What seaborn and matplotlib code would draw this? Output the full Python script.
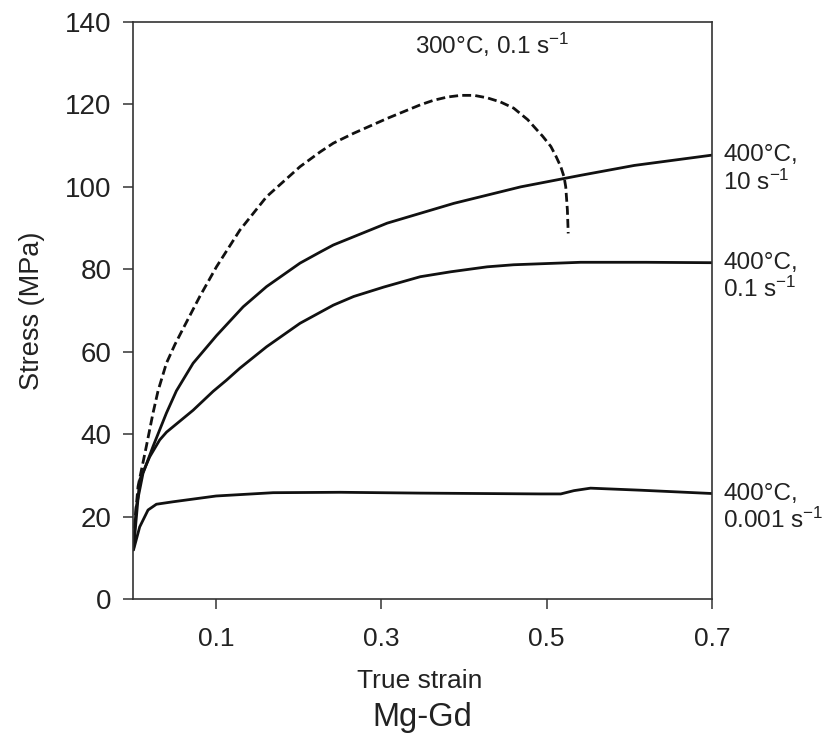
import numpy as np
import pandas as pd
import matplotlib
matplotlib.use("Agg")
import matplotlib.pyplot as plt
import seaborn as sns

# ---- flow curves of Mg-Gd (true strain vs. stress, MPa) ----
strain_300_01 = [0.0, 0.0015, 0.0055, 0.0155, 0.0236, 0.0297, 0.0398, 0.050, 0.060,
                 0.0802, 0.1004, 0.1287, 0.161, 0.2015, 0.226, 0.2418, 0.2664, 0.3069,
                 0.347, 0.363, 0.380, 0.396, 0.412, 0.428, 0.444, 0.460, 0.477,
                 0.4846, 0.495, 0.505, 0.511, 0.517, 0.521, 0.523, 0.525, 0.526]
stress_300_01 = [14.0, 18.4, 27.3, 37.0, 45.1, 50.5, 57.2, 61.7, 65.6,
                 73.4, 80.6, 89.5, 97.6, 104.9, 108.5, 110.6, 113.0, 116.6,
                 119.9, 121.0, 121.8, 122.2, 122.2, 121.6, 120.6, 119.1, 116.3,
                 114.6, 112.3, 109.8, 107.5, 104.9, 102.4, 100.0, 94.4, 88.7]

strain_400_10 = [0.0, 0.0034, 0.0115, 0.0236, 0.0398, 0.0519, 0.0721, 0.1004, 0.1327,
                 0.161, 0.2015, 0.226, 0.2418, 0.307, 0.3876, 0.4685, 0.541, 0.606, 0.700]
stress_400_10 = [13.0, 22.4, 30.5, 37.0, 45.1, 50.5, 57.2, 63.9, 70.9,
                 75.8, 81.5, 84.2, 85.9, 91.2, 96.0, 100.0, 102.8, 105.2, 107.7]

strain_400_01 = [0.0, 0.0075, 0.0196, 0.0317, 0.040, 0.0721, 0.0964, 0.1125, 0.1287,
                 0.161, 0.2015, 0.2418, 0.2664, 0.303, 0.347, 0.384, 0.428, 0.460,
                 0.541, 0.620, 0.700]
stress_400_01 = [12.0, 28.9, 34.5, 38.6, 40.5, 45.8, 50.4, 53.1, 56.0,
                 61.2, 66.9, 71.3, 73.4, 75.7, 78.2, 79.4, 80.6, 81.1,
                 81.7, 81.7, 81.6]

strain_400_0001 = [0.0, 0.0075, 0.0176, 0.0277, 0.048, 0.100, 0.169, 0.250, 0.347,
                   0.4927, 0.517, 0.533, 0.553, 0.614, 0.700]
stress_400_0001 = [11.9, 17.5, 21.6, 23.0, 23.6, 25.0, 25.8, 25.9, 25.7,
                   25.5, 25.5, 26.3, 26.9, 26.4, 25.6]

x_ticks = [0.1, 0.3, 0.5, 0.7]
x_tick_labels = ["0.1", "0.3", "0.5", "0.7"]
y_ticks = [0, 20, 40, 60, 80, 100, 120, 140]

label_300 = "300°C, 0.1 s$^{-1}$"
right_labels = [("400°C,", "10 s$^{-1}$"),
                ("400°C,", "0.1 s$^{-1}$"),
                ("400°C,", "0.001 s$^{-1}$")]

sns.set_theme(style="white")
plt.rcParams["font.family"] = ["Liberation Sans", "DejaVu Sans"]
plt.rcParams["mathtext.fontset"] = "custom"
plt.rcParams["mathtext.rm"] = "Liberation Sans"
plt.rcParams["mathtext.default"] = "regular"

TXT = "#222222"
LINE = "#111111"

fig = plt.figure(figsize=(8.22, 7.38), dpi=100)
fig.patch.set_facecolor("white")
ax = fig.add_axes([0.1624, 0.1883, 0.7038, 0.7819])

curves = [
    (strain_300_01, stress_300_01, (0, (3.2, 1.5))),
    (strain_400_10, stress_400_10, "-"),
    (strain_400_01, stress_400_01, "-"),
    (strain_400_0001, stress_400_0001, "-"),
]
for xs, ys, ls in curves:
    df = pd.DataFrame({"strain": xs, "stress": ys})
    sns.lineplot(data=df, x="strain", y="stress", ax=ax, sort=False,
                 estimator=None, color=LINE, linewidth=2.0, linestyle=ls)

ax.set_xlim(0, 0.7)
ax.set_ylim(0, 140)
ax.set_xticks(x_ticks)
ax.set_xticklabels(x_tick_labels)
ax.set_yticks(y_ticks)

for side in ["left", "right", "top", "bottom"]:
    ax.spines[side].set_visible(True)
    ax.spines[side].set_color("#333333")
    ax.spines[side].set_linewidth(1.2)

ax.tick_params(axis="y", direction="out", length=7, width=1.1, color="#333333",
               labelsize=20, labelcolor=TXT, pad=9, left=True)
ax.tick_params(axis="x", direction="out", length=7, width=1.1, color="#333333",
               labelsize=19, labelcolor=TXT, pad=13, bottom=True)

ax.set_xlabel("True strain", fontsize=19, color=TXT)
ax.xaxis.set_label_coords(0.495, -0.122)
ax.set_ylabel("Stress (MPa)", fontsize=19.5, color=TXT)
ax.yaxis.set_label_coords(-0.153, 0.5)

ax.text(0.5, -0.206, "Mg-Gd", transform=ax.transAxes, ha="center", va="center",
        fontsize=23.5, color=TXT)

# label above the peak of the dashed curve
peak = int(np.argmax(stress_300_01))
ax.annotate(label_300, xy=(strain_300_01[peak], stress_300_01[peak]),
            xytext=(-33, 36), textcoords="offset points", ha="left", va="center",
            fontsize=17.5, color=TXT, annotation_clip=False)

# labels at the right end of the 400°C curves
ends = [stress_400_10[-1], stress_400_01[-1], stress_400_0001[-1]]
for (l1, l2), yv in zip(right_labels, ends):
    ax.annotate(l1, xy=(0.7, yv), xytext=(8, 0), textcoords="offset points",
                ha="left", va="center", fontsize=17.5, color=TXT,
                annotation_clip=False)
    ax.annotate(l2, xy=(0.7, yv), xytext=(8, -19.5), textcoords="offset points",
                ha="left", va="center", fontsize=17.5, color=TXT,
                annotation_clip=False)

fig.savefig("out.png", dpi=100, facecolor="white")
